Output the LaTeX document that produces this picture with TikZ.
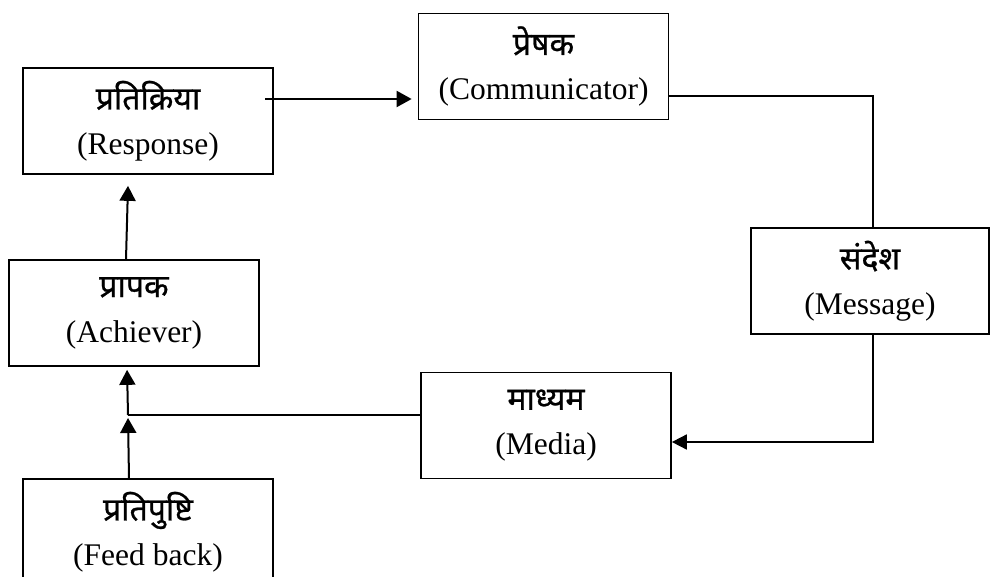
\documentclass[tikz,border=0pt]{standalone}
\usepackage{fontspec}
\setmainfont{Liberation Serif}
\newfontfamily\hindi[Script=Devanagari,FakeBold=0.8]{Noto Sans}
\usetikzlibrary{arrows.meta,calc}
\tikzset{
  box/.style={draw, line width=0.85pt, minimum width=125pt, minimum height=53pt, inner sep=0pt, align=center,
    font=\fontsize{15.75}{22.5}\selectfont},
  arr/.style={line width=1pt, -{Triangle[length=7.5pt,width=8pt]}},
  arrb/.style={line width=0.85pt, -{Triangle[length=7.5pt,width=7.5pt]}},
  link/.style={line width=0.65pt},
}
\newcommand{\bx}[2]{{\hindi\fontsize{16}{22.5}\selectfont #1}\\(#2)}
\begin{document}
\begin{tikzpicture}[x=0.5pt,y=-0.5pt]
\useasboundingbox (0,0) rectangle (990,577);
\node[box] (resp) at (148,121) {\bx{प्रतिक्रिया}{Response}};
\node[box] (comm) at (543.5,66.5) {\bx{प्रेषक}{Communicator}};
\node[box, minimum width=119pt] (msg) at (870,281) {\bx{संदेश}{Message}};
\node[box] (ach) at (134,313) {\bx{प्रापक}{Achiever}};
\node[box] (media) at (546,425.5) {\bx{माध्यम}{Media}};
\node[box] (fb) at (148,532) {\bx{प्रतिपुष्टि}{Feed back}};
\coordinate (ra) at (265,99);
\coordinate (j) at (128,415);
\path (resp.south -| 128,0) ++(0,11) coordinate (rt);
\draw[arr, shorten >=3pt] (ra) -- (ra -| comm.west);
\draw[link] (comm.east |- 0,96) -| ([xshift=1.5pt]msg.north);
\draw[arrb] ([xshift=1.5pt]msg.south) |- (media.east |- 0,442);
\draw[link] (media.west |- j) -- (j);
\draw[arr] (fb.north -| 129,0) -- ([yshift=-1.5pt]j);
\draw[arr, shorten >=1.5pt] (j) -- (ach.south -| 127,0);
\draw[arr] (ach.north -| 126,0) -- (rt);
\end{tikzpicture}
\end{document}
